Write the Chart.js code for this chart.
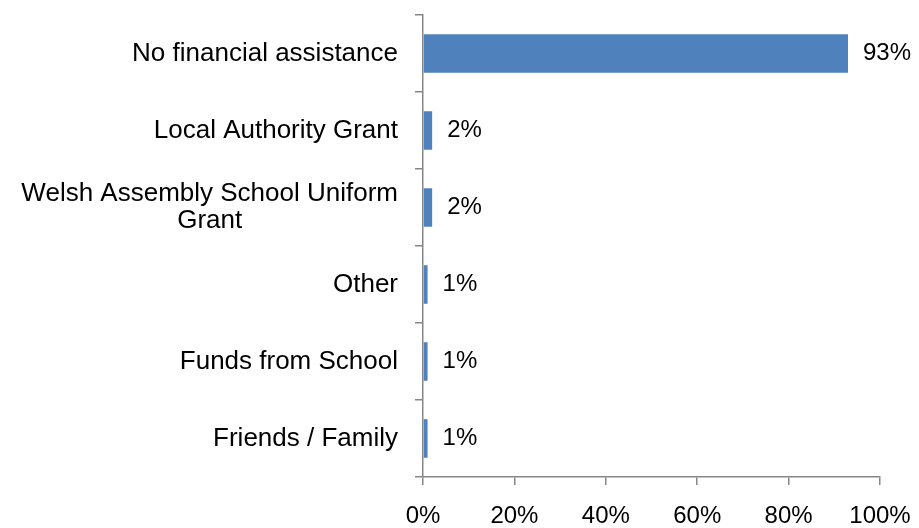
<!DOCTYPE html>
<html>
<head>
<meta charset="utf-8">
<script src="https://cdn.jsdelivr.net/npm/chart.js@4/dist/chart.umd.min.js"></script>
<style>
  html, body { margin: 0; padding: 0; background: #fff; }
  #wrap { width: 919px; height: 528px; position: relative; }
</style>
</head>
<body>
<div id="wrap"><canvas id="myChart"></canvas></div>
<script>
let categories = ['No financial assistance', 'Local Authority Grant', ['Welsh Assembly School Uniform', 'Grant'], 'Other', 'Funds from School', 'Friends / Family'];
let percentValues = [93, 2, 2, 1, 1, 1];
let xTickLabels = ['0%', '20%', '40%', '60%', '80%', '100%'];

const axisGrey = '#868686';
const fontFamily = '"Liberation Sans", Arial, sans-serif';
const labelSize = 26;   // category names
const numberSize = 24;  // value labels + x ticks

// draws the category names (right aligned block, lines centered) and the value labels
const labelsPlugin = {
  id: 'labelsPlugin',
  afterDraw(chart) {
    const ctx = chart.ctx;
    const yScale = chart.scales.y;
    const meta = chart.getDatasetMeta(0);
    ctx.save();
    ctx.fillStyle = '#000';
    ctx.textBaseline = 'middle';
    ctx.font = labelSize + 'px ' + fontFamily;
    categories.forEach((label, i) => {
      const y = yScale.getPixelForValue(i);
      const lines = Array.isArray(label) ? label : [label];
      const blockW = Math.max(...lines.map(l => ctx.measureText(l).width));
      const right = yScale.right - 25;
      const lineH = 27;
      ctx.textAlign = 'center';
      lines.forEach((line, j) => {
        const ly = y + (j - (lines.length - 1) / 2) * lineH;
        ctx.fillText(line, right - blockW / 2, ly);
      });
    });
    ctx.font = numberSize + 'px ' + fontFamily;
    ctx.textAlign = 'left';
    meta.data.forEach((bar, i) => {
      ctx.fillText(percentValues[i] + '%', bar.x + 15, bar.y);
    });
    ctx.restore();
  }
};

new Chart(document.querySelector('#myChart'), {
  type: 'bar',
  data: {
    labels: categories,
    datasets: [{
      data: percentValues,
      backgroundColor: '#4F81BD',
      barPercentage: 0.5,
      categoryPercentage: 1
    }]
  },
  options: {
    indexAxis: 'y',
    responsive: true,
    maintainAspectRatio: false,
    animation: false,
    layout: { padding: { top: 15, right: 39, left: 0, bottom: 0 } },
    plugins: {
      legend: { display: false },
      tooltip: { enabled: false }
    },
    scales: {
      x: {
        min: 0,
        max: 100,
        ticks: {
          stepSize: 20,
          color: '#000',
          font: { family: fontFamily, size: numberSize },
          padding: 17,
          maxRotation: 0,
          callback: (v, i) => xTickLabels[i]
        },
        grid: { drawOnChartArea: false, color: axisGrey, tickLength: 8, lineWidth: 1.5 },
        border: { color: axisGrey, width: 1.5 },
        afterFit(scale) {
          scale.height = 51;
          scale.paddingLeft = 0;
          scale.paddingRight = 0;
        }
      },
      y: {
        ticks: { display: false },
        grid: { drawOnChartArea: false, color: axisGrey, tickLength: 8, lineWidth: 1.5, offset: true },
        border: { color: axisGrey, width: 1.5 },
        afterFit(scale) { scale.width = 423; }
      }
    }
  },
  plugins: [labelsPlugin]
});
</script>
</body>
</html>
